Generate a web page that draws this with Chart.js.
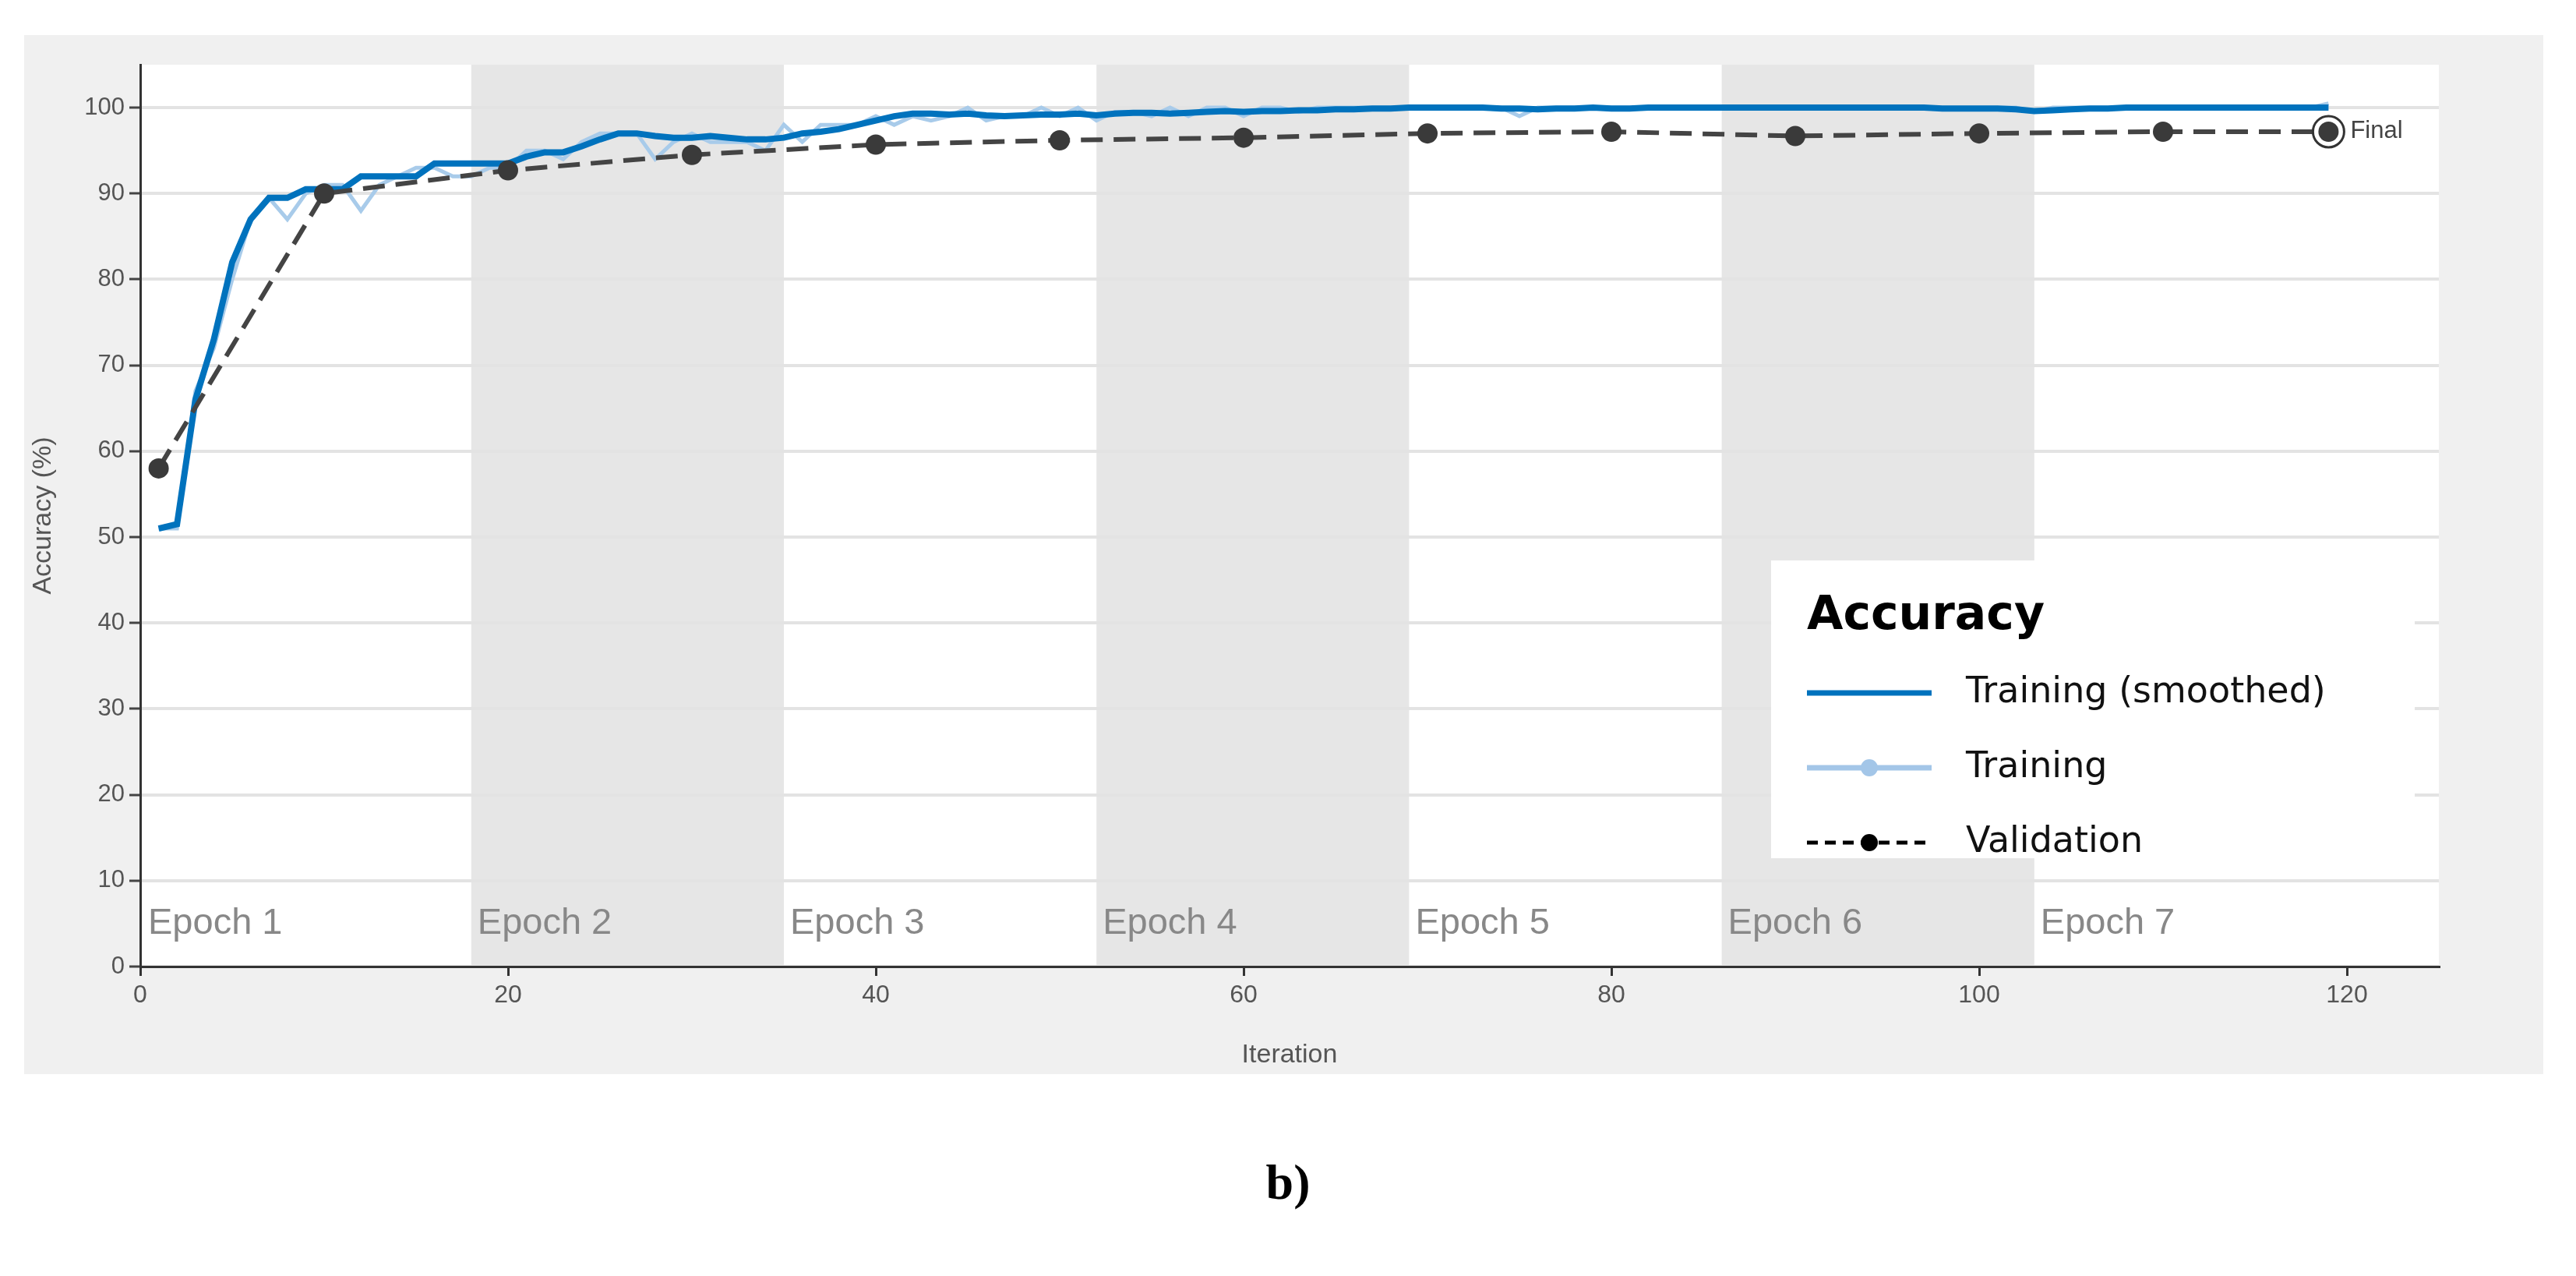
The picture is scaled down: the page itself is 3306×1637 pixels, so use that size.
<!DOCTYPE html>
<html><head><meta charset="utf-8">
<script src="https://cdn.jsdelivr.net/npm/chart.js@4"></script>
<style>
body{margin:0;background:#fff;width:3306px;height:1637px;position:relative;overflow:hidden;font-family:"Liberation Sans",Arial,sans-serif}
#panel{position:absolute;left:31px;top:45px;width:3233px;height:1333px;background:#f0f0f0}
#wrap{position:absolute;left:31px;top:45px;width:3233px;height:1333px}
#cap{position:absolute;left:0;width:3306px;top:1480px;text-align:center;font:bold 64px "Liberation Serif",serif;color:#000}
</style></head><body>
<div id="panel"></div>
<div id="wrap"><canvas id="c" width="3233" height="1333"></canvas></div>
<div id="cap">b)</div>
<script>
const iterations = Array.from({length:119},(_, i)=>i+1);
const smoothed = [51,51.5,66,73,82,87,89.5,89.5,90.5,90.5,90.5,92,92,92,92,93.5,93.5,93.5,93.5,93.5,
94.3,94.8,94.8,95.5,96.3,97,97,96.7,96.5,96.5,96.7,96.5,96.3,96.3,96.5,97,97.2,97.5,98,98.5,
99,99.3,99.3,99.2,99.3,99.1,99,99.1,99.2,99.2,99.3,99.1,99.3,99.4,99.4,99.3,99.4,99.5,99.6,99.5,
99.6,99.6,99.7,99.7,99.8,99.8,99.9,99.9,100,100,100,100,100,99.9,99.9,99.8,99.9,99.9,100,99.9,
99.9,100,100,100,100,100,100,100,100,100,100,100,100,100,100,100,100,99.9,99.9,99.9,
99.9,99.8,99.6,99.7,99.8,99.9,99.9,100,100,100,100,100,100,100,100,100,100,100,100];
const training = [51,51,67,72,80,87,89.5,87,90,91,91,88,91,92,93,93,92,92,93,93,
95,95,94,96,97,97,97,94,96,97,96,96,96,95,98,96,98,98,98,99,
98,99,98.5,99,100,98.5,99,99,100,99,100,98.5,99.5,99.5,99,100,99,100,100,99,
100,100,99.5,100,100,100,100,100,100,100,100,100,100,100,99,100,100,100,100,100,
100,100,100,100,100,100,100,100,100,100,100,100,100,100,100,100,100,100,100,100,
100,100,99.5,100,100,100,100,100,100,100,100,100,100,100,100,100,100,100,100.5];
const valIter = [1,10,20,30,40,50,60,70,80,90,100,110,119];
const validation = [58,90,92.7,94.5,95.7,96.2,96.5,97,97.2,96.7,97,97.2,97.2];
const epochStarts = [0,18,35,52,69,86,103];
const epochEnds   = [18,35,52,69,86,103,125];
const epochLabels = ["Epoch 1","Epoch 2","Epoch 3","Epoch 4","Epoch 5","Epoch 6","Epoch 7"];
const xTicks = [0,20,40,60,80,100,120];
const yTicks = [0,10,20,30,40,50,60,70,80,90,100];

const bands = {id:'bands',
 beforeDraw(ch){const {ctx,chartArea:a,scales:{x,y}}=ch;ctx.save();
  ctx.fillStyle='#fff';ctx.fillRect(a.left,a.top,a.right-a.left,a.bottom-a.top);
  epochStarts.forEach((s,i)=>{if(i%2===1){const l=x.getPixelForValue(s),r=x.getPixelForValue(epochEnds[i]);
   ctx.fillStyle='#e6e6e6';ctx.fillRect(l,a.top,r-l,a.bottom-a.top);}});
  ctx.restore();},
 afterDatasetsDraw(ch){const {ctx,chartArea:a,scales:{x,y}}=ch;ctx.save();
  ctx.font='47px "Liberation Sans",Arial';ctx.fillStyle='#888';ctx.textBaseline='middle';
  epochStarts.forEach((s,i)=>ctx.fillText(epochLabels[i],Math.max(x.getPixelForValue(s)+8,a.left+10),y.getPixelForValue(5)));
  const fx=x.getPixelForValue(valIter[valIter.length-1]),fy=y.getPixelForValue(validation[validation.length-1]);
  ctx.strokeStyle='#333';ctx.lineWidth=3;ctx.beginPath();ctx.arc(fx,fy,20,0,2*Math.PI);ctx.stroke();
  ctx.font='31px "Liberation Sans",Arial';ctx.fillStyle='#444';ctx.fillText('Final',fx+28,fy);
  // legend
  const L=a.left+2093,T=a.bottom-521;const W=826,H=382;
  ctx.fillStyle='#fff';ctx.fillRect(L,T,W,H);
  ctx.fillStyle='#000';ctx.font='bold 60px "DejaVu Sans"';ctx.textBaseline='middle';ctx.fillText('Accuracy',L+46,T+72);
  ctx.font='46px "DejaVu Sans"';
  const rows=[['Training (smoothed)',0],['Training',1],['Validation',2]];
  rows.forEach(([t,k],i)=>{const yy=T+170+i*96;ctx.fillStyle='#111';ctx.fillText(t,L+250,yy);
   ctx.lineCap='butt';
   if(k===0){ctx.strokeStyle='#0072BD';ctx.lineWidth=7;ctx.setLineDash([]);ctx.beginPath();ctx.moveTo(L+46,yy);ctx.lineTo(L+206,yy);ctx.stroke();}
   if(k===1){ctx.strokeStyle='#a3c6e8';ctx.lineWidth=7;ctx.setLineDash([]);ctx.beginPath();ctx.moveTo(L+46,yy);ctx.lineTo(L+206,yy);ctx.stroke();
     ctx.fillStyle='#a3c6e8';ctx.beginPath();ctx.arc(L+126,yy,11,0,7);ctx.fill();}
   if(k===2){ctx.strokeStyle='#000';ctx.lineWidth=5;ctx.setLineDash([14,9]);ctx.beginPath();ctx.moveTo(L+46,yy);ctx.lineTo(L+206,yy);ctx.stroke();ctx.setLineDash([]);
     ctx.fillStyle='#000';ctx.beginPath();ctx.arc(L+126,yy,11,0,7);ctx.fill();}
  });
  ctx.restore();}};

new Chart(document.getElementById('c'),{
 type:'scatter',
 data:{datasets:[
  {label:'Validation',data:valIter.map((v,i)=>({x:v,y:validation[i]})),showLine:true,borderColor:'#444',borderWidth:6,borderDash:[28,14],
   pointRadius:13,pointBackgroundColor:'#3a3a3a',pointBorderWidth:0,order:1},
  {label:'Training',data:iterations.map((v,i)=>({x:v,y:training[i]})),showLine:true,borderColor:'#a8cbea',borderWidth:5,pointRadius:0,order:3},
  {label:'Training (smoothed)',data:iterations.map((v,i)=>({x:v,y:smoothed[i]})),showLine:true,borderColor:'#0072BD',borderWidth:8,pointRadius:0,order:2}
 ]},
 options:{responsive:false,animation:false,
  layout:{padding:{left:0,top:38,right:134,bottom:0}},
  plugins:{legend:{display:false},tooltip:{enabled:false}},
  scales:{
   x:{type:'linear',min:0,max:125,afterBuildTicks(s){s.ticks=xTicks.map(v=>({value:v}));},afterFit(s){s.height=138;},
    grid:{drawOnChartArea:false,tickLength:12,color:'#333',lineWidth:3},border:{color:'#333',width:3},
    ticks:{font:{size:32,family:'"Liberation Sans"'},color:'#555',padding:6},
    title:{display:true,text:'Iteration',font:{size:34,family:'"Liberation Sans"'},color:'#555',padding:{top:0}}},
   y:{min:0,max:105,afterBuildTicks(s){s.ticks=yTicks.map(v=>({value:v}));},afterFit(s){s.width=149;},
    grid:{color:'#e3e3e3',lineWidth:4,tickLength:14,tickColor:'#444',tickWidth:3},border:{color:'#333',width:3},
    ticks:{font:{size:31,family:'"Liberation Sans"'},color:'#555',padding:6},
    title:{display:true,text:'Accuracy (%)',font:{size:34,family:'"Liberation Sans"'},color:'#555',padding:{bottom:4}}}
  }},
 plugins:[bands]});
</script></body></html>
